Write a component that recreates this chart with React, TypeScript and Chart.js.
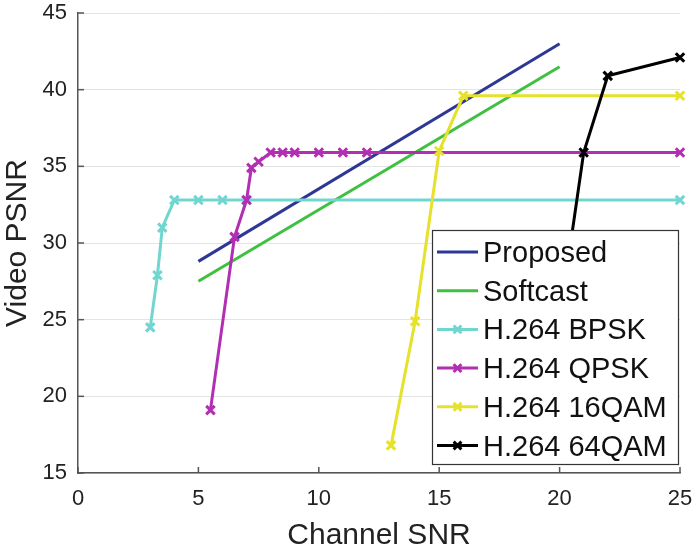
import React, { useEffect, useRef } from "react";
import { Chart, registerables } from "chart.js";

Chart.register(...registerables);

const seriesLabels = ["Proposed", "Softcast", "H.264 BPSK", "H.264 QPSK", "H.264 16QAM", "H.264 64QAM"];

const xProposed = [5, 20];
const yProposed = [28.8, 43.0];

const xSoftcast = [5, 20];
const ySoftcast = [27.5, 41.5];

const xBPSK = [3, 3.3, 3.5, 4, 5, 6, 7, 25];
const yBPSK = [24.5, 27.9, 31.0, 32.8, 32.8, 32.8, 32.8, 32.8];

const xQPSK = [5.5, 6.5, 7, 7.2, 7.5, 8, 8.5, 9, 10, 11, 12, 25];
const yQPSK = [19.1, 30.4, 32.8, 34.9, 35.3, 35.9, 35.9, 35.9, 35.9, 35.9, 35.9, 35.9];

const x16QAM = [13, 14, 15, 16, 25];
const y16QAM = [16.8, 24.9, 36.0, 39.6, 39.6];

const x64QAM = [20, 21, 22, 25];
const y64QAM = [25.0, 35.9, 40.9, 42.1];

const xTicks = [0, 5, 10, 15, 20, 25];
const yTicks = [15, 20, 25, 30, 35, 40, 45];

const colors = ["#2d3895", "#40c040", "#72d6d0", "#b22fb2", "#e6e12a", "#000000"];
const hasMarker = [false, false, true, true, true, true];

const FONT = "'Liberation Sans', Arial, Helvetica, sans-serif";

function pts(xs: number[], ys: number[]) {
  return xs.map((x, i) => ({ x, y: ys[i] }));
}

function drawX(ctx: CanvasRenderingContext2D, cx: number, cy: number, r: number) {
  const o = r * Math.SQRT1_2;
  ctx.beginPath();
  ctx.moveTo(cx - o, cy - o);
  ctx.lineTo(cx + o, cy + o);
  ctx.moveTo(cx - o, cy + o);
  ctx.lineTo(cx + o, cy - o);
  ctx.stroke();
}

const inwardTicks = {
  id: "inwardTicks",
  afterDraw(chart: any) {
    const { ctx, chartArea, scales } = chart;
    ctx.save();
    ctx.strokeStyle = "#555";
    ctx.lineWidth = 1.5;
    xTicks.forEach((v) => {
      const px = scales.x.getPixelForValue(v);
      ctx.beginPath();
      ctx.moveTo(px, chartArea.bottom);
      ctx.lineTo(px, chartArea.bottom - 6);
      ctx.stroke();
    });
    yTicks.forEach((v) => {
      const py = scales.y.getPixelForValue(v);
      ctx.beginPath();
      ctx.moveTo(chartArea.left, py);
      ctx.lineTo(chartArea.left + 6, py);
      ctx.stroke();
    });
    ctx.restore();
  },
};

const boxLegend = {
  id: "boxLegend",
  afterDatasetsDraw(chart: any) {
    const { ctx, chartArea } = chart;
    const w = 246;
    const h = 234;
    const right = chartArea.right - 2;
    const bottom = chartArea.bottom - 9;
    const left = right - w;
    const top = bottom - h;
    ctx.save();
    ctx.fillStyle = "#ffffff";
    ctx.fillRect(left, top, w, h);
    ctx.strokeStyle = "#333";
    ctx.lineWidth = 1.2;
    ctx.strokeRect(left + 0.5, top + 0.5, w, h);
    chart.data.datasets.forEach((ds: any, i: number) => {
      const cy = top + 22 + i * 38.7;
      ctx.strokeStyle = ds.borderColor;
      ctx.lineWidth = 3;
      ctx.beginPath();
      ctx.moveTo(left + 5, cy);
      ctx.lineTo(left + 46, cy);
      ctx.stroke();
      if (hasMarker[i]) {
        drawX(ctx, left + 25.5, cy, 5.5);
      }
      ctx.fillStyle = "#111";
      ctx.font = `29px ${FONT}`;
      ctx.textBaseline = "middle";
      ctx.textAlign = "left";
      ctx.fillText(ds.label, left + 51, cy + 2);
    });
    ctx.restore();
  },
};

export default function App() {
  const ref = useRef<HTMLCanvasElement | null>(null);

  useEffect(() => {
    if (!ref.current) return;
    const allX = [xProposed, xSoftcast, xBPSK, xQPSK, x16QAM, x64QAM];
    const allY = [yProposed, ySoftcast, yBPSK, yQPSK, y16QAM, y64QAM];
    const datasets = seriesLabels.map((label, i) => ({
      label,
      data: pts(allX[i], allY[i]),
      borderColor: colors[i],
      backgroundColor: colors[i],
      borderWidth: 3,
      pointStyle: "crossRot",
      pointRadius: hasMarker[i] ? 6 : 0,
      pointBorderWidth: 3,
      pointBorderColor: colors[i],
      tension: 0,
      fill: false,
      clip: false,
      order: seriesLabels.length - 1 - i,
    }));

    const chart = new Chart(ref.current, {
      type: "line",
      data: { datasets } as any,
      options: {
        animation: false,
        responsive: false,
        maintainAspectRatio: false,
        layout: { padding: { top: 13, right: 13, left: 0, bottom: 0 } },
        plugins: {
          legend: { display: false },
          tooltip: { enabled: false },
        },
        scales: {
          x: {
            type: "linear",
            min: 0,
            max: 25,
            afterBuildTicks: (s: any) => {
              s.ticks = xTicks.map((v) => ({ value: v }));
            },
            afterFit: (s: any) => {
              s.height = 81;
              s.paddingLeft = 0;
              s.paddingRight = 0;
            },
            grid: { drawOnChartArea: false, drawTicks: false },
            border: { display: true, color: "#555", width: 1.5 },
            ticks: {
              color: "#222",
              font: { family: FONT, size: 22 },
              padding: 13,
              maxRotation: 0,
            },
            title: {
              display: true,
              text: "Channel SNR",
              color: "#222",
              font: { family: FONT, size: 30 },
              padding: 0,
            },
          },
          y: {
            type: "linear",
            min: 15,
            max: 45,
            afterBuildTicks: (s: any) => {
              s.ticks = yTicks.map((v) => ({ value: v }));
            },
            afterFit: (s: any) => {
              s.width = 78;
              s.paddingTop = 0;
              s.paddingBottom = 0;
            },
            grid: { color: "#e3e3e3", lineWidth: 1, drawTicks: false },
            border: { display: true, color: "#555", width: 1.5 },
            ticks: {
              color: "#222",
              font: { family: FONT, size: 22 },
              padding: 11,
            },
            title: {
              display: true,
              text: "Video PSNR",
              color: "#222",
              font: { family: FONT, size: 30 },
              padding: 0,
            },
          },
        },
      } as any,
      plugins: [boxLegend, inwardTicks],
    });
    return () => chart.destroy();
  }, []);

  return (
    <div style={{ position: "fixed", left: 0, top: 0, width: 693, height: 554, background: "#fff" }}>
      <canvas ref={ref} width={693} height={554} style={{ display: "block", width: 693, height: 554 }} />
    </div>
  );
}
